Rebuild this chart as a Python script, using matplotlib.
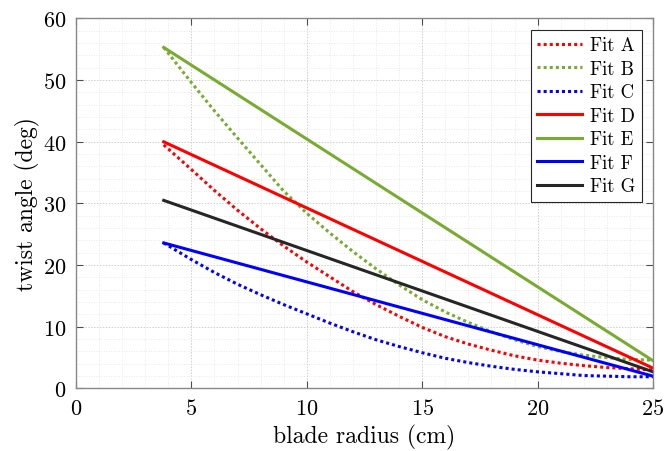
import matplotlib
matplotlib.use("Agg")
import matplotlib.pyplot as plt
import numpy as np

plt.rcParams["font.family"] = ["cmr10", "DejaVu Serif"]
plt.rcParams["mathtext.fontset"] = "cm"
plt.rcParams["axes.formatter.use_mathtext"] = True

# blade radius stations (cm)
r = [3.8, 5, 6, 7, 8, 9, 10, 11, 12, 13, 14, 15,
     16, 17, 18, 19, 20, 21, 22, 23, 24, 25]

# curved fits (deg)
fit_a = [39.5, 35.5, 32.1, 28.9, 25.9, 23.1, 20.5, 18.1, 15.7, 13.6, 11.7, 9.9,
         8.4, 7.2, 6.2, 5.3, 4.6, 4.1, 3.7, 3.4, 3.2, 3.0]
fit_b = [55.3, 49.6, 45.0, 40.6, 36.3, 32.0, 28.4, 25.2, 22.2, 19.4, 16.8, 14.4,
         12.4, 10.7, 9.2, 7.9, 6.8, 6.0, 5.4, 5.0, 4.7, 4.6]
fit_c = [23.6, 20.9, 18.8, 16.9, 15.2, 13.6, 12.1, 10.6, 9.2, 7.9, 6.8, 5.8,
         4.9, 4.2, 3.6, 3.1, 2.7, 2.4, 2.1, 2.0, 1.9, 1.9]

# linear fits: root and tip values (deg)
r_lin = [3.8, 25]
fit_d = [40.0, 3.3]
fit_e = [55.3, 4.5]
fit_f = [23.6, 2.0]
fit_g = [30.5, 2.7]

red = "#ff0000"
green = "#77ac30"
blue = "#0000ff"
black = "#262626"
dot = (0, (1, 1))
lw = 2.2

fig = plt.figure(figsize=(6.65, 4.52), dpi=100)
ax = fig.add_axes([0.1143, 0.1383, 0.8677, 0.8187])

ax.plot(r, fit_a, color=red, linestyle=dot, lw=lw, label="Fit A")
ax.plot(r, fit_b, color=green, linestyle=dot, lw=lw, label="Fit B")
ax.plot(r, fit_c, color=blue, linestyle=dot, lw=lw, label="Fit C")
ax.plot(r_lin, fit_d, color=red, lw=lw, label="Fit D")
ax.plot(r_lin, fit_e, color=green, lw=lw, label="Fit E")
ax.plot(r_lin, fit_f, color=blue, lw=lw, label="Fit F")
ax.plot(r_lin, fit_g, color=black, lw=lw, label="Fit G")

ax.set_xlim(0, 25)
ax.set_ylim(0, 60)
ax.set_xticks(np.arange(0, 26, 5))
ax.set_yticks(np.arange(0, 61, 10))
ax.set_xticks(np.arange(0, 26, 1), minor=True)
ax.set_yticks(np.arange(0, 61, 2), minor=True)
ax.tick_params(which="both", direction="in", top=True, right=True,
               labelsize=16, color="#4d4d4d", pad=7)
ax.tick_params(which="minor", length=0)
ax.tick_params(which="major", length=5)
ax.grid(which="major", color="#cfcfcf", linestyle=(0, (1.5, 1.5)), lw=0.7)
ax.grid(which="minor", color="#e2e2e2", linestyle=(0, (1, 2)), lw=0.6)
ax.set_axisbelow(True)
for s in ax.spines.values():
    s.set_color("#888888")
    s.set_linewidth(1.0)

ax.set_xlabel("blade radius (cm)", fontsize=17)
ax.set_ylabel("twist angle (deg)", fontsize=17, labelpad=2)

leg = ax.legend(loc="upper right", fontsize=13.5, handlelength=2.4,
                fancybox=False, framealpha=1, edgecolor="#262626",
                borderaxespad=0.6, labelspacing=0.3, handletextpad=0.4,
                borderpad=0.35)
leg.get_frame().set_linewidth(0.8)

fig.savefig("out.png", dpi=100)
